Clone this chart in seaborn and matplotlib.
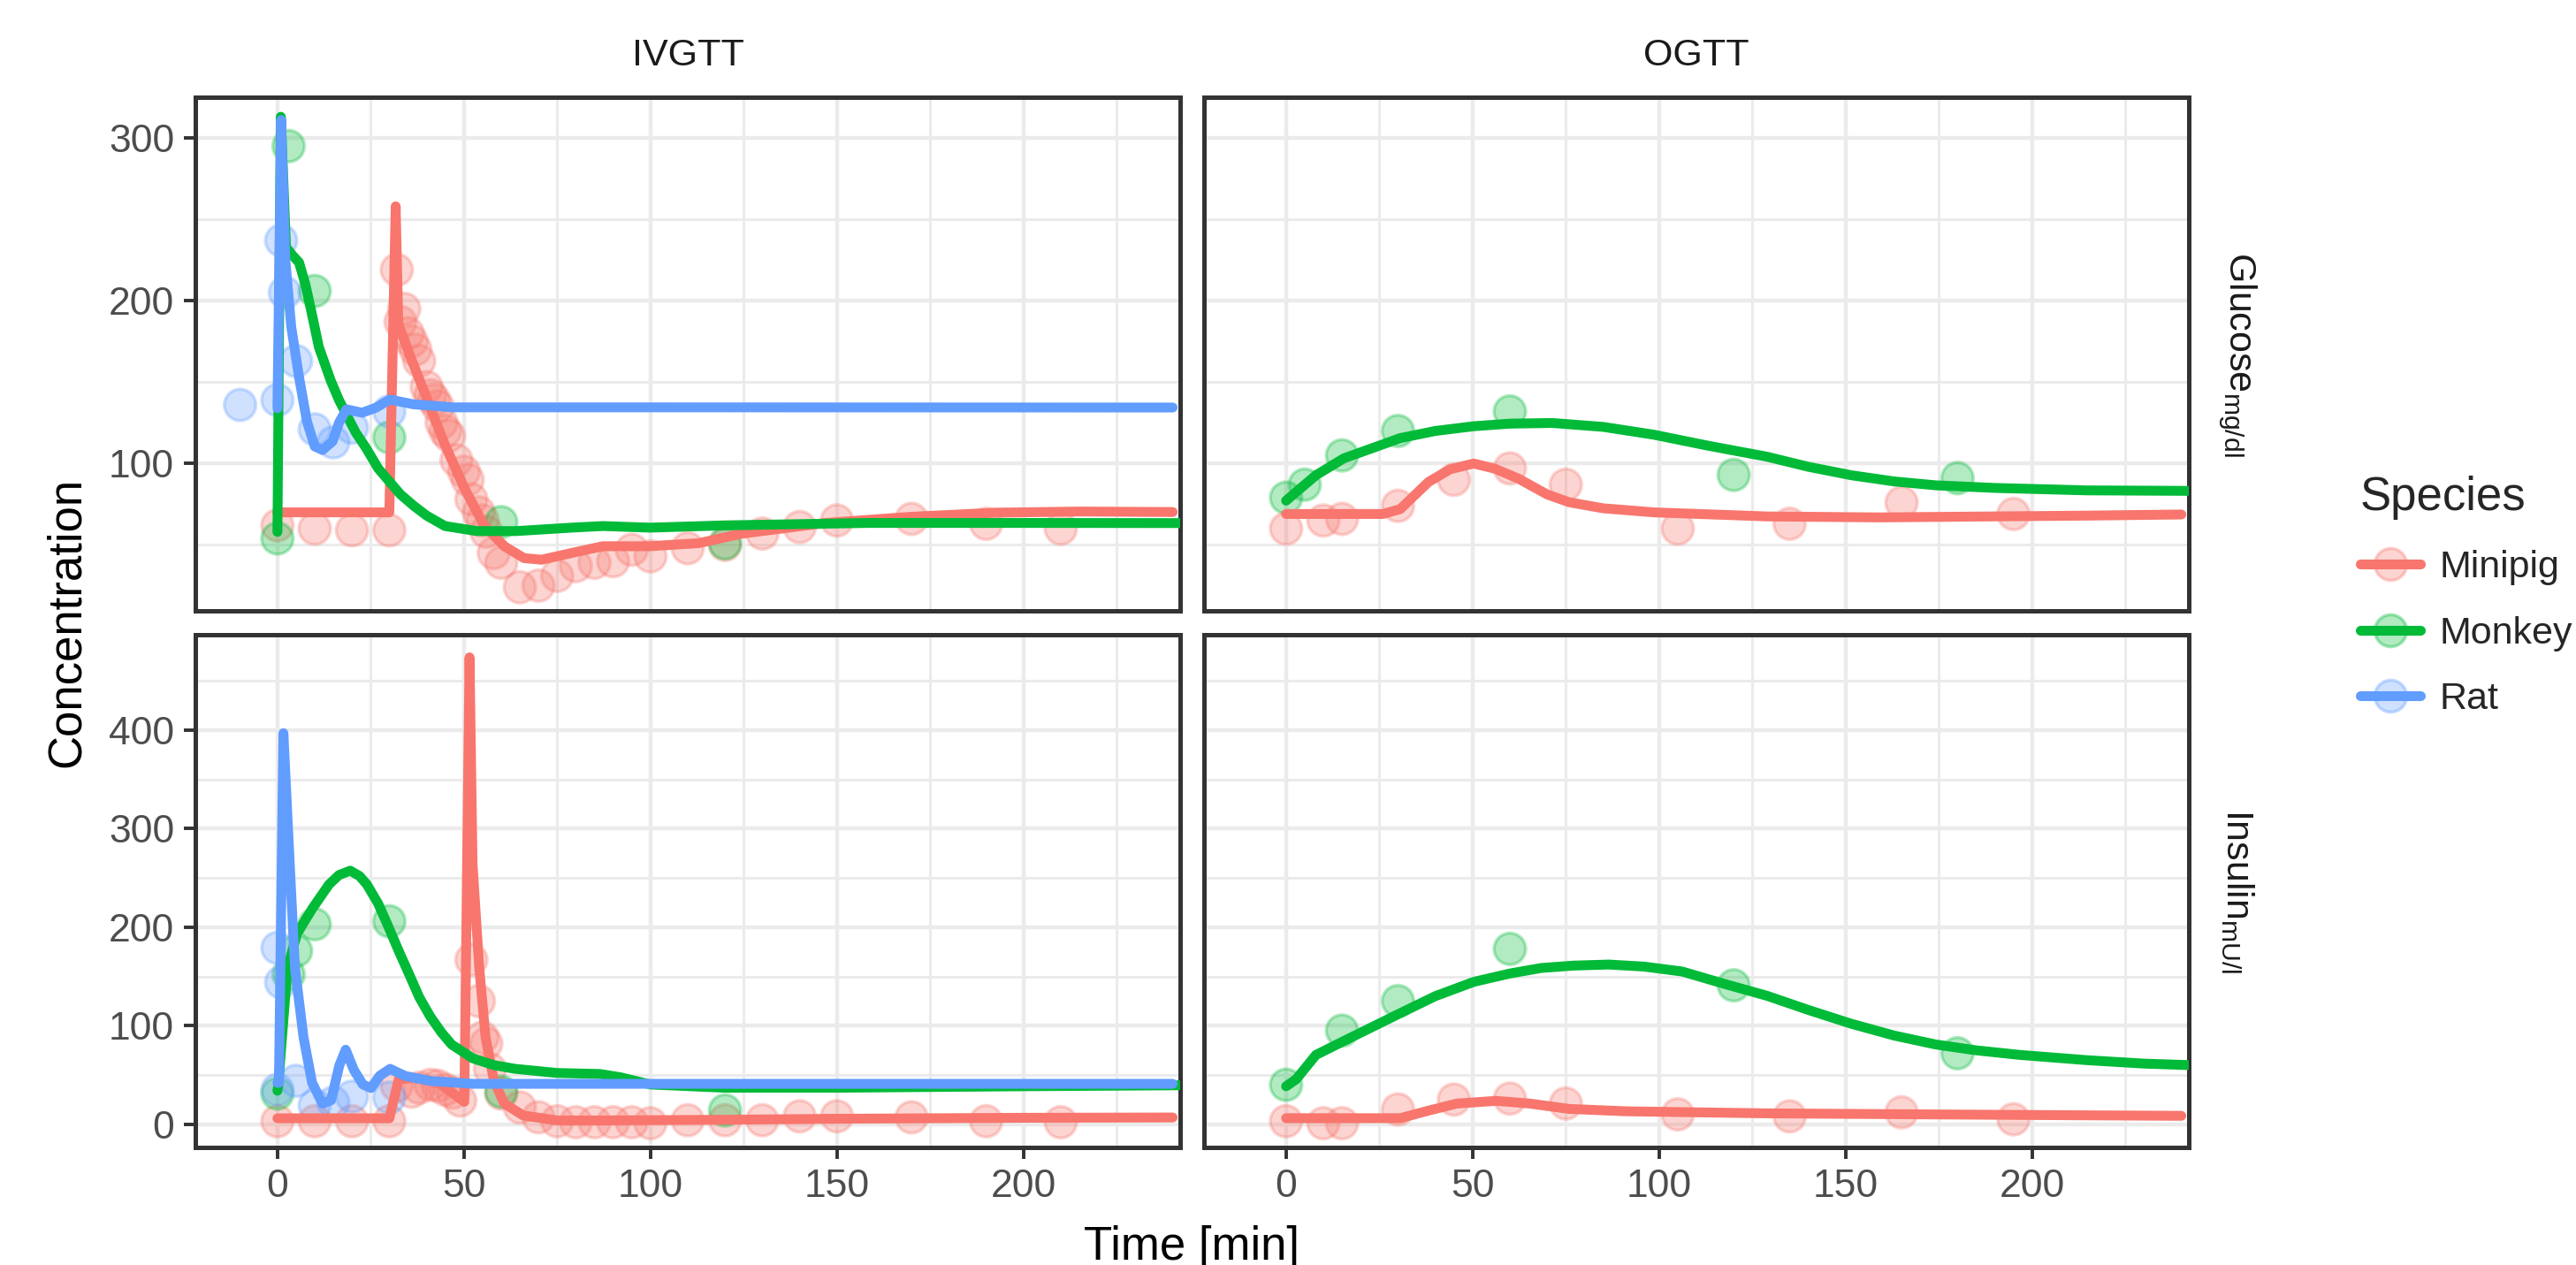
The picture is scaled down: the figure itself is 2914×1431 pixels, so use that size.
import pandas as pd
import matplotlib
matplotlib.use("Agg")
import matplotlib.pyplot as plt
from matplotlib.lines import Line2D
from matplotlib.colors import to_rgba
from matplotlib.ticker import MultipleLocator
import seaborn as sns

# Species and colours (ggplot default hues)
species = ["Minipig", "Monkey", "Rat"]
colors = ["#F8766D", "#00BA38", "#619CFF"]

# ---------------- IVGTT glucose ----------------
ivgtt_glc_minipig_t = [0, 30, 31.7, 32.4, 35.4, 39.6, 44.9, 50.2, 55.5, 60.8, 66.1, 70.8, 78.8,
                       87.2, 99.9, 113, 124.5, 147, 170, 192.5, 215, 240]
ivgtt_glc_minipig_v = [70, 70, 258, 186, 167, 142.6, 111.5, 84.5, 61.6, 49.2, 41.9, 40.9, 45,
                       49.2, 49.2, 51.1, 56.9, 63.5, 67.3, 69.8, 70.5, 70.2]
ivgtt_glc_monkey_t = [0, 0.9, 2.3, 4, 5.8, 7.5, 9, 11.1, 14.3, 16.5, 18.5, 21, 23.8, 27, 30.1,
                      33, 36.5, 40, 44.9, 53.4, 64, 78.8, 87.2, 99.9, 120, 158.5, 200, 242]
ivgtt_glc_monkey_v = [58, 313, 233, 228, 223.5, 210, 194.4, 171.6, 150.9, 139, 130.1, 119,
                      109.4, 97, 88.7, 81, 74.1, 68, 61.6, 58.5, 58.5, 60.6, 61.6, 60.6, 62,
                      63.5, 63.5, 63.4]
ivgtt_glc_rat_t = [0, 1, 2.1, 3.7, 5.8, 7.9, 10, 12.1, 14.8, 16.5, 18.5, 22.7, 26.4, 30.1,
                   36.4, 47, 100, 240]
ivgtt_glc_rat_v = [134, 311, 225.5, 184, 153, 126, 110.5, 108.3, 113.7, 125, 133.3, 131.2,
                   134.3, 139.3, 136.4, 134.5, 134.5, 134.4]

ivgtt_glc_minipig_obs_t = [0, 10, 20, 30, 32, 33, 34, 35, 36, 37, 38, 40, 41, 42, 43, 44, 45,
                           46, 48, 50, 51, 52, 54, 55, 56, 58, 60, 65, 70, 75, 80, 85, 90, 95,
                           100, 110, 120, 130, 140, 150, 170, 190, 210]
ivgtt_glc_minipig_obs_v = [62, 60, 59, 59, 219, 187, 195, 180, 175, 170, 163, 147, 142, 139,
                           135, 125, 120, 117, 102, 95, 90, 78, 70, 65, 58, 45, 39, 24, 25, 31,
                           37, 39, 40, 47, 43, 48, 50, 57, 61, 65, 66, 63, 60]
ivgtt_glc_monkey_obs_t = [0, 3, 10, 30, 60, 120]
ivgtt_glc_monkey_obs_v = [54, 295, 206, 116, 64, 51]
ivgtt_glc_rat_obs_t = [-10, 0, 1, 2, 5, 10, 15, 20, 30]
ivgtt_glc_rat_obs_v = [136, 139, 237, 205, 163, 121, 113, 122, 132]

# ---------------- IVGTT insulin ----------------
ivgtt_ins_minipig_t = [0, 30, 32.5, 36.6, 43.3, 50.1, 51.5, 52.3, 54.1, 55.8, 58, 60.8, 65.9,
                       75, 86.4, 120, 150, 200, 240]
ivgtt_ins_minipig_v = [6, 6, 45.5, 47, 41.9, 22.7, 474, 264.5, 158.6, 88, 45, 21, 8.8,
                       3.8, 3.8, 4.5, 5.5, 6.5, 6.8]
ivgtt_ins_monkey_t = [0, 0.2, 2.7, 5.3, 9.3, 13.8, 16.5, 19.5, 22, 24, 27, 29.7, 32.5, 35.4,
                      38, 41, 44, 46.7, 52.4, 58, 63.7, 75, 86.4, 92, 100, 120, 150, 200, 242]
ivgtt_ins_monkey_v = [34, 38.5, 158.6, 193.8, 218.6, 243.3, 253, 257.4, 252, 243.3, 224,
                      200.9, 176, 151.5, 129, 109.1, 93, 80.9, 66.8, 60, 56.2, 52, 51, 47.6,
                      40.3, 37, 37, 38.5, 39.5]
ivgtt_ins_rat_t = [0, 0.4, 1.6, 3.3, 4.7, 7.0, 9.3, 12.1, 14.4, 16.6, 18.3, 20.5, 22.9, 25.1,
                   27.4, 30.2, 34.2, 41, 52.4, 240]
ivgtt_ins_rat_v = [42, 42, 397, 264.5, 158.6, 88, 42, 20.9, 24.4, 59.7, 75.6, 55, 40.3, 36.7,
                   49.1, 56.2, 49, 43.9, 41, 41]

ivgtt_ins_minipig_obs_t = [0, 10, 20, 30, 32, 36, 38, 41, 43, 45, 47, 49, 52, 54, 55, 56, 57,
                           60, 65, 70, 75, 80, 85, 90, 95, 100, 110, 120, 130, 140, 150, 170,
                           190, 210]
ivgtt_ins_minipig_obs_v = [3, 3, 3, 3, 39, 33, 37, 40, 39, 35, 32, 24, 167, 125, 88, 82, 56,
                           31, 17, 7, 3, 2, 2, 2, 2, 1, 4, 4, 4, 8, 8, 7, 3, 2]
ivgtt_ins_monkey_obs_t = [0, 3, 5, 10, 30, 60, 120]
ivgtt_ins_monkey_obs_v = [31, 152, 176, 203, 206, 33, 14]
ivgtt_ins_rat_obs_t = [0, 0, 1, 5, 10, 15, 20, 30]
ivgtt_ins_rat_obs_v = [35, 179, 144, 44, 19, 22, 28, 27]

# ---------------- OGTT glucose ----------------
ogtt_glc_minipig_t = [0, 26, 30.6, 38.2, 44, 50.3, 56, 62.3, 70, 75.9, 85, 98.6, 128.9, 159,
                      214.7, 240]
ogtt_glc_minipig_v = [69, 69, 72, 88.7, 96.5, 100, 96.8, 90.7, 81, 76.2, 72.5, 70, 67.5, 66.9,
                      68, 68.7]
ogtt_glc_monkey_t = [0, 8, 15.5, 30.6, 40, 50.3, 60, 71.4, 85, 98.6, 113, 128.9, 140, 151.5,
                     163, 174.2, 190, 214.7, 242]
ogtt_glc_monkey_v = [77.2, 92.8, 103.2, 115.6, 120, 122.9, 124.5, 124.9, 122.5, 117.7, 111,
                     104.2, 98, 92.8, 89, 86.6, 85, 83.5, 83.2]
ogtt_glc_minipig_obs_t = [0, 10, 15, 30, 45, 60, 75, 105, 135, 165, 195]
ogtt_glc_minipig_obs_v = [60, 65, 66, 74, 90, 97, 87, 60, 63, 76, 69]
ogtt_glc_monkey_obs_t = [0, 5, 15, 30, 60, 120, 180]
ogtt_glc_monkey_obs_v = [79, 87, 105, 120, 132, 93, 91]

# ---------------- OGTT insulin ----------------
ogtt_ins_minipig_t = [0, 30.6, 38.2, 45.7, 56.3, 65.4, 75.9, 91.1, 128.9, 174.2, 214.7, 240]
ogtt_ins_minipig_v = [6.1, 6.1, 13.8, 20.9, 23.7, 20.9, 15.5, 13.1, 11, 9.9, 9, 8.5]
ogtt_ins_monkey_t = [0, 2.7, 8, 15.5, 30.6, 40, 50.3, 60, 68.4, 77, 86.5, 96, 106.2, 117,
                     128.9, 140, 151.5, 163, 174.2, 185, 196.8, 214.7, 230, 242]
ogtt_ins_monkey_v = [38.5, 45.6, 70.3, 84.5, 112.7, 130, 144.5, 153, 158.6, 161, 162.1, 160,
                     155, 143, 130.4, 116, 102, 90, 80.9, 75, 70.3, 65, 61.5, 60]
ogtt_ins_minipig_obs_t = [0, 10, 15, 30, 45, 60, 75, 105, 135, 165, 195]
ogtt_ins_minipig_obs_v = [3, 1, 1, 15, 25, 26, 21, 10, 8, 12, 5]
ogtt_ins_monkey_obs_t = [0, 15, 30, 60, 120, 180]
ogtt_ins_monkey_obs_v = [40, 95, 125, 178, 141, 72]


def frame(test, analyte, sp, t, v):
    return pd.DataFrame({"test": test, "analyte": analyte, "species": sp, "time": t, "value": v})


curves = pd.concat([
    frame("IVGTT", "Glucose", "Minipig", ivgtt_glc_minipig_t, ivgtt_glc_minipig_v),
    frame("IVGTT", "Glucose", "Monkey", ivgtt_glc_monkey_t, ivgtt_glc_monkey_v),
    frame("IVGTT", "Glucose", "Rat", ivgtt_glc_rat_t, ivgtt_glc_rat_v),
    frame("IVGTT", "Insulin", "Minipig", ivgtt_ins_minipig_t, ivgtt_ins_minipig_v),
    frame("IVGTT", "Insulin", "Monkey", ivgtt_ins_monkey_t, ivgtt_ins_monkey_v),
    frame("IVGTT", "Insulin", "Rat", ivgtt_ins_rat_t, ivgtt_ins_rat_v),
    frame("OGTT", "Glucose", "Minipig", ogtt_glc_minipig_t, ogtt_glc_minipig_v),
    frame("OGTT", "Glucose", "Monkey", ogtt_glc_monkey_t, ogtt_glc_monkey_v),
    frame("OGTT", "Insulin", "Minipig", ogtt_ins_minipig_t, ogtt_ins_minipig_v),
    frame("OGTT", "Insulin", "Monkey", ogtt_ins_monkey_t, ogtt_ins_monkey_v),
], ignore_index=True)

obs = pd.concat([
    frame("IVGTT", "Glucose", "Minipig", ivgtt_glc_minipig_obs_t, ivgtt_glc_minipig_obs_v),
    frame("IVGTT", "Glucose", "Monkey", ivgtt_glc_monkey_obs_t, ivgtt_glc_monkey_obs_v),
    frame("IVGTT", "Glucose", "Rat", ivgtt_glc_rat_obs_t, ivgtt_glc_rat_obs_v),
    frame("IVGTT", "Insulin", "Minipig", ivgtt_ins_minipig_obs_t, ivgtt_ins_minipig_obs_v),
    frame("IVGTT", "Insulin", "Monkey", ivgtt_ins_monkey_obs_t, ivgtt_ins_monkey_obs_v),
    frame("IVGTT", "Insulin", "Rat", ivgtt_ins_rat_obs_t, ivgtt_ins_rat_obs_v),
    frame("OGTT", "Glucose", "Minipig", ogtt_glc_minipig_obs_t, ogtt_glc_minipig_obs_v),
    frame("OGTT", "Glucose", "Monkey", ogtt_glc_monkey_obs_t, ogtt_glc_monkey_obs_v),
    frame("OGTT", "Insulin", "Minipig", ogtt_ins_minipig_obs_t, ogtt_ins_minipig_obs_v),
    frame("OGTT", "Insulin", "Monkey", ogtt_ins_monkey_obs_t, ogtt_ins_monkey_obs_v),
], ignore_index=True)

palette = dict(zip(species, colors))

sns.set_theme(style="white")
plt.rcParams.update({
    "font.family": ["Liberation Sans", "DejaVu Sans"],
    "mathtext.fontset": "custom",
    "mathtext.rm": "Liberation Sans",
    "mathtext.it": "Liberation Sans:italic",
    "mathtext.bf": "Liberation Sans:bold",
})

W, H = 2914, 1431
fig = plt.figure(figsize=(W / 200, H / 200), dpi=200)


def box(l, t, r, b):
    return [l / W, 1 - b / H, (r - l) / W, (b - t) / H]


cols = {"IVGTT": (221, 1335), "OGTT": (1362, 2476)}
rows = {"Glucose": (110, 691), "Insulin": (718, 1298)}
ylims = {"Glucose": (9.5, 325), "Insulin": (-23.6, 497)}
strip_labels = {"Glucose": r"Glucose$_{\mathrm{mg/dl}}$", "Insulin": r"Insulin$_{\mathrm{mU/l}}$"}

for test, (l, r) in cols.items():
    for analyte, (t, b) in rows.items():
        ax = fig.add_axes(box(l, t, r, b))
        sel = (obs["test"] == test) & (obs["analyte"] == analyte)
        sns.scatterplot(data=obs[sel], x="time", y="value", hue="species", hue_order=species,
                        palette=palette, s=165, alpha=0.3, edgecolor="face", linewidth=1.3,
                        legend=False, ax=ax, zorder=2)
        sel = (curves["test"] == test) & (curves["analyte"] == analyte)
        sns.lineplot(data=curves[sel], x="time", y="value", hue="species", hue_order=species,
                     palette=palette, estimator=None, sort=False, linewidth=4,
                     legend=False, ax=ax, zorder=3)

        ax.set_xlim(-22, 242)
        ax.set_ylim(*ylims[analyte])
        ax.xaxis.set_major_locator(MultipleLocator(50))
        ax.xaxis.set_minor_locator(MultipleLocator(25))
        ax.yaxis.set_major_locator(MultipleLocator(100))
        ax.yaxis.set_minor_locator(MultipleLocator(50))
        ax.grid(which="major", color="#EBEBEB", linewidth=1.6)
        ax.grid(which="minor", color="#EBEBEB", linewidth=1.1)
        ax.set_axisbelow(True)
        for sp in ax.spines.values():
            sp.set_color("#333333")
            sp.set_linewidth(1.8)
        ax.set_xlabel("")
        ax.set_ylabel("")
        ax.tick_params(which="major", direction="out", length=4.6, width=1.4, color="#333333",
                       labelcolor="#4D4D4D", labelsize=16, pad=4)
        ax.tick_params(which="minor", length=0)
        ax.tick_params(axis="x", bottom=(analyte == "Insulin"), labelbottom=(analyte == "Insulin"))
        ax.tick_params(axis="y", left=(test == "IVGTT"), labelleft=(test == "IVGTT"))

        if analyte == "Glucose":
            fig.text((l + r) / 2 / W, 1 - 63 / H, test, ha="center", va="center",
                     fontsize=15.5, color="#1A1A1A")
        if test == "OGTT":
            fig.text(2531 / W, 1 - (t + b) / 2 / H, strip_labels[analyte], rotation=270,
                     ha="center", va="center", fontsize=15.5, color="#1A1A1A")

fig.text(76 / W, 1 - 704 / H, "Concentration", rotation=90, ha="center", va="center",
         fontsize=19, color="black")
fig.text(1348 / W, 1 - 1425 / H, "Time [min]", ha="center", va="baseline",
         fontsize=19, color="black")

handles = [Line2D([], [], color=c, linewidth=4, marker="o", markersize=13,
                  markerfacecolor=to_rgba(c, 0.3), markeredgecolor=to_rgba(c, 0.35),
                  markeredgewidth=1.3) for c in colors]
leg = fig.legend(handles, species, title="Species", loc="upper left",
                 bbox_to_anchor=(2670 / W, 1 - 538 / H), frameon=False, fontsize=15.5,
                 title_fontsize=19, handlelength=1.58, handletextpad=0.49, labelspacing=0.8,
                 borderpad=0, borderaxespad=0)
leg._legend_box.align = "left"

fig.savefig("out.png", dpi=200)
